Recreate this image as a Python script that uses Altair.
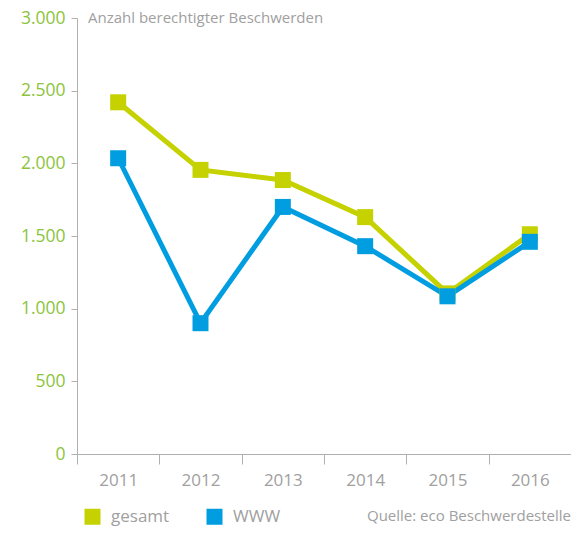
import altair as alt
import pandas as pd

years = ["2011", "2012", "2013", "2014", "2015", "2016"]
gesamt = [2420, 1955, 1885, 1630, 1105, 1512]
www = [2035, 900, 1700, 1430, 1085, 1460]
series = ["gesamt", "WWW"]
colors = ["#c5d200", "#009ee0"]
y_ticks = [0, 500, 1000, 1500, 2000, 2500, 3000]

FONT = "Open Sans"
GREY = "#a0a0a0"

rows = []
for s, vals in zip(series, [gesamt, www]):
    for y, v in zip(years, vals):
        rows.append({"Jahr": y, "Wert": v, "Serie": s})
df = pd.DataFrame(rows)

x_enc = alt.X(
    "Jahr:O",
    bandPosition=0.5,
    scale=alt.Scale(type="band", paddingInner=0, paddingOuter=0),
    axis=alt.Axis(
        title=None, labelAngle=0, labelFontSize=17, labelColor=GREY, labelFont=FONT,
        tickBand="extent", tickSize=10, tickColor="#b0b0b0", domainColor="#b0b0b0",
        labelPadding=8, grid=False,
    ),
)
y_enc = alt.Y(
    "Wert:Q",
    scale=alt.Scale(domain=[0, 3000], nice=False),
    axis=alt.Axis(
        title=None, values=y_ticks, grid=False, labelFontSize=17.5, labelFont=FONT,
        labelColor="#8cc43c", tickSize=6, tickColor="#b0b0b0", domainColor="#b0b0b0",
        labelPadding=6,
        labelExpr="replace(format(datum.value, ','), ',', '.')",
    ),
)
color_enc = alt.Color(
    "Serie:N",
    scale=alt.Scale(domain=series, range=colors),
    sort=series,
    legend=alt.Legend(
        title=None, orient="none", legendX=7, legendY=490, direction="horizontal",
        symbolType="square", symbolSize=256, symbolStrokeWidth=0, symbolOpacity=1,
        labelFontSize=17, labelFont=FONT, labelColor=GREY, labelOffset=10,
        columnPadding=36, padding=0,
    ),
)

base = alt.Chart(df)
lines = base.mark_line(strokeWidth=5).encode(
    x=x_enc, y=y_enc, color=color_enc, detail="Serie:N",
)
points = base.mark_point(shape="square", size=256, filled=True, opacity=1).encode(
    x=x_enc, y=y_enc, color=color_enc,
)

title_txt = alt.Chart(pd.DataFrame({"t": ["Anzahl berechtigter Beschwerden"]})).mark_text(
    align="left", baseline="middle", fontSize=15, font=FONT, color=GREY
).encode(text="t:N", x=alt.value(11), y=alt.value(0))

src_txt = alt.Chart(pd.DataFrame({"t": ["Quelle: eco Beschwerdestelle"]})).mark_text(
    align="right", baseline="middle", fontSize=15, font=FONT, color=GREY
).encode(text="t:N", x=alt.value(494), y=alt.value(498))

chart = alt.layer(lines, points, title_txt, src_txt).properties(
    width=494, height=436,
    autosize=alt.AutoSizeParams(type="none"),
    padding={"left": 69, "top": 10, "right": 0, "bottom": 73},
).configure_view(stroke=None)

chart.save("out.html", embed_options={"renderer": "svg", "actions": False})
